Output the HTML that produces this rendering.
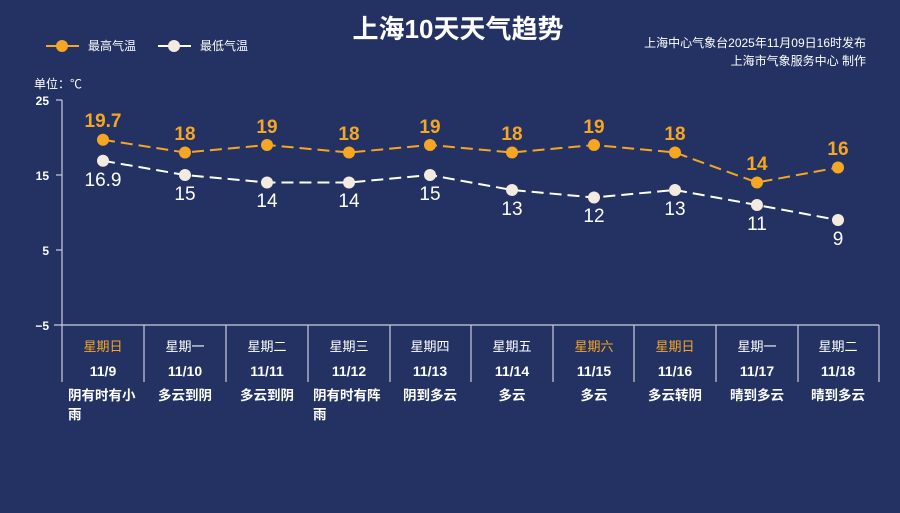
<!DOCTYPE html>
<html><head><meta charset="utf-8"><style>
body{margin:0;width:900px;height:508px;background:#233263;overflow:hidden;font-family:"Liberation Sans","Noto Sans CJK SC",sans-serif}
</style></head><body>
<svg width="900" height="508" xmlns="http://www.w3.org/2000/svg" font-family="Liberation Sans, Noto Sans CJK SC, sans-serif">
<rect width="900" height="508" fill="#233263"/>
<text x="458" y="38" fill="#fff" font-size="26" font-weight="bold" text-anchor="middle">上海10天天气趋势</text>
<text x="866" y="47" fill="#fff" font-size="12" text-anchor="end">上海中心气象台2025年11月09日16时发布</text>
<text x="866" y="65" fill="#fff" font-size="12" text-anchor="end">上海市气象服务中心  制作</text>
<line x1="46" y1="46" x2="79" y2="46" stroke="#f5a623" stroke-width="2"/><circle cx="62" cy="46" r="6" fill="#f5a623"/>
<text x="88" y="50" fill="#fff" font-size="12">最高气温</text>
<line x1="158" y1="46" x2="191" y2="46" stroke="#fff" stroke-width="2"/><circle cx="174" cy="46" r="6" fill="#f3ebe0"/>
<text x="200" y="50" fill="#fff" font-size="12">最低气温</text>
<text x="34" y="88" fill="#fff" font-size="12">单位：℃</text>
<g stroke="#ccd" stroke-width="1.2">
<line x1="62" y1="100" x2="62" y2="382"/>
<line x1="56" y1="100" x2="62" y2="100"/><line x1="56" y1="175" x2="62" y2="175"/><line x1="56" y1="250" x2="62" y2="250"/>
<line x1="54" y1="325" x2="879" y2="325"/>
<line x1="144" y1="325" x2="144" y2="382"/><line x1="226" y1="325" x2="226" y2="382"/><line x1="308" y1="325" x2="308" y2="382"/><line x1="390" y1="325" x2="390" y2="382"/><line x1="471" y1="325" x2="471" y2="382"/><line x1="553" y1="325" x2="553" y2="382"/><line x1="634" y1="325" x2="634" y2="382"/><line x1="716" y1="325" x2="716" y2="382"/><line x1="798" y1="325" x2="798" y2="382"/><line x1="879" y1="325" x2="879" y2="382"/>
</g>
<g fill="#fff" font-size="12" font-weight="bold" text-anchor="end">
<text x="49" y="105">25</text><text x="49" y="180">15</text><text x="49" y="255">5</text><text x="49" y="330">−5</text></g>
<polyline points="103,139.75 185,152.5 267,145 349,152.5 430,145 512,152.5 594,145 675,152.5 757,182.5 838,167.5" fill="none" stroke="#f5a623" stroke-width="2" stroke-dasharray="12,6"/>
<polyline points="103,160.75 185,175 267,182.5 349,182.5 430,175 512,190 594,197.5 675,190 757,205 838,220" fill="none" stroke="#fff" stroke-width="2" stroke-dasharray="12,6"/>
<g fill="#f5a623"><circle cx="103" cy="139.75" r="6"/><circle cx="185" cy="152.5" r="6"/><circle cx="267" cy="145" r="6"/><circle cx="349" cy="152.5" r="6"/><circle cx="430" cy="145" r="6"/><circle cx="512" cy="152.5" r="6"/><circle cx="594" cy="145" r="6"/><circle cx="675" cy="152.5" r="6"/><circle cx="757" cy="182.5" r="6"/><circle cx="838" cy="167.5" r="6"/></g>
<g fill="#f3ebe0"><circle cx="103" cy="160.75" r="6"/><circle cx="185" cy="175" r="6"/><circle cx="267" cy="182.5" r="6"/><circle cx="349" cy="182.5" r="6"/><circle cx="430" cy="175" r="6"/><circle cx="512" cy="190" r="6"/><circle cx="594" cy="197.5" r="6"/><circle cx="675" cy="190" r="6"/><circle cx="757" cy="205" r="6"/><circle cx="838" cy="220" r="6"/></g>
<g fill="#f5a623" font-size="19" font-weight="bold" text-anchor="middle">
<text x="103" y="127">19.7</text><text x="185" y="140">18</text><text x="267" y="133">19</text><text x="349" y="140">18</text><text x="430" y="133">19</text><text x="512" y="140">18</text><text x="594" y="133">19</text><text x="675" y="140">18</text><text x="757" y="170">14</text><text x="838" y="155">16</text></g>
<g fill="#fff" font-size="19" text-anchor="middle">
<text x="103" y="186">16.9</text><text x="185" y="200">15</text><text x="267" y="207">14</text><text x="349" y="207">14</text><text x="430" y="200">15</text><text x="512" y="215">13</text><text x="594" y="222">12</text><text x="675" y="215">13</text><text x="757" y="230">11</text><text x="838" y="245">9</text></g>
<g font-size="13" text-anchor="middle" fill="#fff">
<text x="103" y="351" fill="#f5a623">星期日</text><text x="185" y="351">星期一</text><text x="267" y="351">星期二</text><text x="349" y="351">星期三</text><text x="430" y="351">星期四</text><text x="512" y="351">星期五</text><text x="594" y="351" fill="#f5a623">星期六</text><text x="675" y="351" fill="#f5a623">星期日</text><text x="757" y="351">星期一</text><text x="838" y="351">星期二</text></g>
<g font-size="14" font-weight="bold" text-anchor="middle" fill="#fff">
<text x="103" y="376">11/9</text><text x="185" y="376">11/10</text><text x="267" y="376">11/11</text><text x="349" y="376">11/12</text><text x="430" y="376">11/13</text><text x="512" y="376">11/14</text><text x="594" y="376">11/15</text><text x="675" y="376">11/16</text><text x="757" y="376">11/17</text><text x="838" y="376">11/18</text></g>
<g font-size="13.5" font-weight="bold" fill="#fff">
<text x="68" y="400">阴有时有小</text><text x="68" y="419">雨</text>
<text x="185" y="400" text-anchor="middle">多云到阴</text><text x="267" y="400" text-anchor="middle">多云到阴</text>
<text x="313" y="400">阴有时有阵</text><text x="313" y="419">雨</text>
<text x="430" y="400" text-anchor="middle">阴到多云</text><text x="512" y="400" text-anchor="middle">多云</text><text x="594" y="400" text-anchor="middle">多云</text><text x="675" y="400" text-anchor="middle">多云转阴</text><text x="757" y="400" text-anchor="middle">晴到多云</text><text x="838" y="400" text-anchor="middle">晴到多云</text></g>
</svg>
</body></html>
